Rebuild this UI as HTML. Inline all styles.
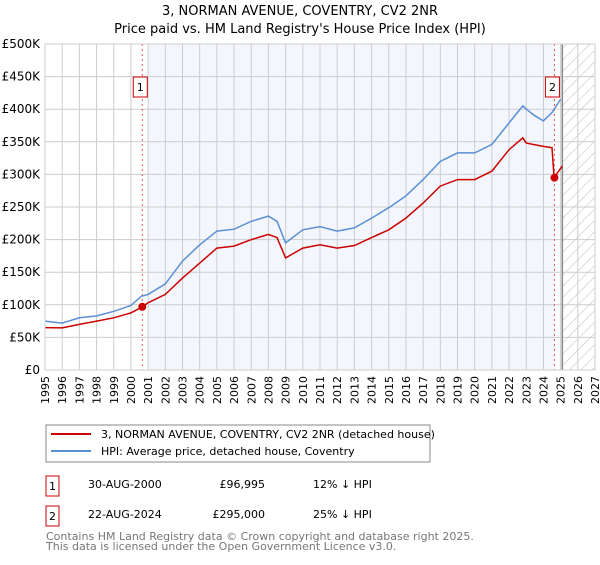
<!DOCTYPE html>
<html><head><meta charset="utf-8"><style>
body{margin:0;background:#fff;font-family:"Liberation Sans","DejaVu Sans",sans-serif;}
svg text{font-family:"DejaVu Sans","Liberation Sans",sans-serif;}
</style></head><body>
<svg id="c" width="600" height="560" xmlns="http://www.w3.org/2000/svg">
<defs><pattern id="hatch" width="8" height="8" patternUnits="userSpaceOnUse" patternTransform="rotate(45)"><line x1="0" y1="0" x2="0" y2="8" stroke="#bbb" stroke-width="1"/></pattern></defs>
<text x="300" y="15" text-anchor="middle" font-size="13">3, NORMAN AVENUE, COVENTRY, CV2 2NR</text>
<text x="300" y="33" text-anchor="middle" font-size="13">Price paid vs. HM Land Registry's House Price Index (HPI)</text>
<g id="plot"></g>
<g>
<rect x="46" y="425" width="384" height="37" fill="#fff" stroke="#888"/>
<line x1="51" y1="434" x2="91" y2="434" stroke="#cc0000" stroke-width="2"/>
<text x="101" y="438" font-size="11">3, NORMAN AVENUE, COVENTRY, CV2 2NR (detached house)</text>
<line x1="51" y1="451" x2="91" y2="451" stroke="#5b8fd4" stroke-width="2"/>
<text x="101" y="455" font-size="11">HPI: Average price, detached house, Coventry</text>
</g>
<g font-size="11">
<rect x="46" y="476" width="13" height="20" fill="#fff" stroke="#cc0000"/><text x="52.5" y="490" text-anchor="middle">1</text>
<text x="88" y="488">30-AUG-2000</text><text x="265" y="488" text-anchor="end">£96,995</text><text x="313" y="488">12% ↓ HPI</text>
<rect x="46" y="506" width="13" height="20" fill="#fff" stroke="#cc0000"/><text x="52.5" y="520" text-anchor="middle">2</text>
<text x="88" y="518">22-AUG-2024</text><text x="265" y="518" text-anchor="end">£295,000</text><text x="313" y="518">25% ↓ HPI</text>
</g>
<text x="46" y="540" font-size="11" fill="#777">Contains HM Land Registry data © Crown copyright and database right 2025.</text>
<text x="46" y="550" font-size="11" fill="#777">This data is licensed under the Open Government Licence v3.0.</text>
</svg>
<script>
const hpiYears=[1995,1996,1997,1998,1999,2000,2000.6,2001,2002,2003,2004,2005,2006,2007,2008,2008.5,2009,2010,2011,2012,2013,2014,2015,2016,2017,2018,2019,2020,2021,2022,2022.8,2023,2023.5,2024,2024.5,2025];
const hpiValues=[75,72,80,83,90,99,113,116,132,167,192,213,216,228,236,228,195,215,220,213,218,233,249,267,292,320,333,333,346,379,405,400,390,382,395,415];
const priceYears=[1995,1996,1997,1998,1999,2000,2000.66,2001,2002,2003,2004,2005,2006,2007,2008,2008.5,2009,2010,2011,2012,2013,2014,2015,2016,2017,2018,2019,2020,2021,2022,2022.8,2023,2024,2024.5,2024.62,2025.1];
const priceValues=[65,64.5,70,75,80,87.5,97,103,116,141,164,187,190,200,208,203,172,187,192,187,191,203,215,233,256,282,292,292,305,338,356,348,343,341,295,313];
const saleYears=[2000.66,2024.64];
const saleValues=[96.995,295];
const saleLabels=["1","2"];
const yTicks=[0,50,100,150,200,250,300,350,400,450,500];
const yTickLabels=["£0","£50K","£100K","£150K","£200K","£250K","£300K","£350K","£400K","£450K","£500K"];
const xTicks=[];for(let y=1995;y<=2027;y++)xTicks.push(y);

const L=45,R=595,T=44,B=370,X0=1995,X1=2027;
const sx=v=>L+(v-X0)/(X1-X0)*(R-L);
const sy=v=>B-v/500*(B-T);
const NS="http://www.w3.org/2000/svg";
const g=document.getElementById('plot');
function mk(tag,attrs,parent){const e=document.createElementNS(NS,tag);for(const k in attrs)e.setAttribute(k,attrs[k]);(parent||g).appendChild(e);return e;}

const shade=mk('rect',{x:sx(2001),y:T,width:sx(2024.64)-sx(2001),height:B-T,fill:'#eef3fc',opacity:0.7});


const hatch=mk('rect',{x:sx(2025.1),y:T,width:R-sx(2025.1),height:B-T,fill:'url(#hatch)'});



xTicks.forEach(t=>{
  const l=mk('line',{x1:sx(t),x2:sx(t),y1:T,y2:B,stroke:'#ccc','stroke-width':1});
  
  
  const tx=mk('text',{x:0,y:0,'font-size':11,'text-anchor':'end',transform:`translate(${sx(t)+4},${B+6}) rotate(-90)`});
  tx.textContent=t;
  
  
});
yTicks.forEach((t,i)=>{
  const l=mk('line',{x1:L,x2:R,y1:sy(t),y2:sy(t),stroke:'#ccc','stroke-width':1});
  
  
  const tx=mk('text',{x:L-5,y:sy(t)+4,'font-size':12,'text-anchor':'end'});
  tx.textContent=yTickLabels[i];
  
  
});
const nowL=mk('line',{x1:sx(2025.1),x2:sx(2025.1),y1:T,y2:B,stroke:'#888','stroke-width':1.5});



saleYears.forEach((yr,i)=>{
  const l=mk('line',{x1:sx(yr),x2:sx(yr),y1:T,y2:B,stroke:'#e55','stroke-width':1,'stroke-dasharray':'2,3'});
  
  
});

function path(xs,ys){return xs.map((x,i)=>(i?'L':'M')+sx(x).toFixed(1)+','+sy(ys[i]).toFixed(1)).join('');}
const hp=mk('path',{d:path(hpiYears,hpiValues),fill:'none',stroke:'#5b8fd4','stroke-width':1.5});


const pp=mk('path',{d:path(priceYears,priceValues),fill:'none',stroke:'#cc0000','stroke-width':1.5});



saleYears.forEach((yr,i)=>{
  const c=mk('circle',{cx:sx(yr),cy:sy(saleValues[i]),r:4,fill:'#cc0000'});
  
  
  const bx=sx(yr)-2;
  const r=mk('rect',{x:bx-7,y:77,width:14,height:20,fill:'#fff',stroke:'#cc0000'});
  
  
  const t=mk('text',{x:bx,y:91,'font-size':11,'text-anchor':'middle'});
  t.textContent=saleLabels[i];
  
  
});
const frame=mk('rect',{x:L,y:T,width:R-L,height:B-T,fill:'none',stroke:'#ccc'});


</script>
</body></html>
